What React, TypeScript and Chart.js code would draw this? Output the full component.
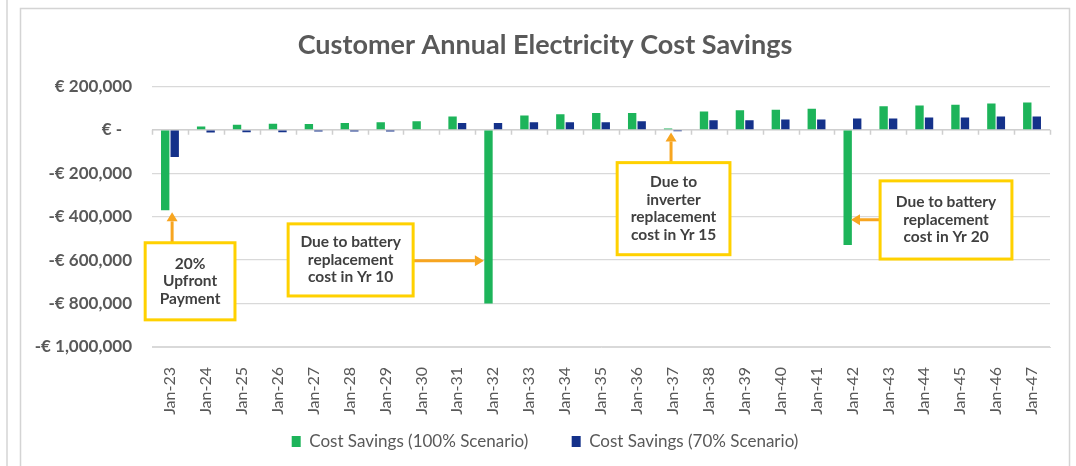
import React, { useEffect, useRef } from 'react';
import { Chart, registerables } from 'chart.js';

Chart.register(...registerables);

// ---------- data ----------
const categories = [
  'Jan-23', 'Jan-24', 'Jan-25', 'Jan-26', 'Jan-27', 'Jan-28', 'Jan-29', 'Jan-30', 'Jan-31',
  'Jan-32', 'Jan-33', 'Jan-34', 'Jan-35', 'Jan-36', 'Jan-37', 'Jan-38', 'Jan-39', 'Jan-40',
  'Jan-41', 'Jan-42', 'Jan-43', 'Jan-44', 'Jan-45', 'Jan-46', 'Jan-47',
];
const savings100 = [
  -370000, 15000, 23000, 28000, 27000, 31000, 35000, 40000, 61000,
  -800000, 66000, 72000, 77000, 77000, 6000, 84000, 90000, 93000,
  97000, -530000, 109000, 112000, 116000, 121000, 126000,
];
const savings70 = [
  -125000, -12000, -11000, -11000, -8000, -8000, -8000, 0, 31000,
  31000, 35000, 35000, 35000, 40000, -7000, 44000, 44000, 48000,
  48000, 52000, 52000, 57000, 57000, 61000, 61000,
];
const seriesLabels = ['Cost Savings (100% Scenario)', 'Cost Savings (70% Scenario)'];
const chartTitle = 'Customer Annual Electricity Cost Savings';
const yMin = -1000000;
const yMax = 200000;
const yStep = 200000;

// annotation texts
const noteTexts = [
  ['20%', 'Upfront', 'Payment'],
  ['Due to battery', 'replacement', 'cost in Yr 10'],
  ['Due to', 'inverter', 'replacement', 'cost in Yr 15'],
  ['Due to battery', 'replacement', 'cost in Yr 20'],
];
// annotation boxes in data space: [catFrom, catTo, valueTop, valueBottom]
const noteBoxes = [
  [-0.69, 1.81, -520000, -875000],
  [3.29, 6.77, -433000, -765000],
  [12.45, 15.59, -151000, -575000],
  [19.77, 23.44, -235000, -595000],
];
// arrows in data space: [catFrom, valueFrom, catTo, valueTo]
const noteArrows = [
  [0.06, -520000, 0.06, -380000],
  [6.77, -603000, 8.74, -603000],
  [13.95, -151000, 13.95, -12000],
  [19.77, -414000, 18.96, -414000],
];

// ---------- styles ----------
const FONT = 'Lato, "Noto Sans", sans-serif';
const TEXT = '#595959';
const GRID = '#D9D9D9';
const GREEN = '#1DB45A';
const BLUE = '#14318A';
const YELLOW = '#FFD100';
const ORANGE = '#F7A520';
const LEGEND_GAP = '\u2002\u2002\u2002';

const fmtEuro = (v: number) => {
  if (v === 0) return '€ -\u2007';
  return (v < 0 ? '-' : '') + '€ ' + Math.abs(v).toLocaleString('en-US');
};

const framePlugin = {
  id: 'frame',
  beforeDraw(chart: any) {
    const { ctx, width, height } = chart;
    ctx.save();
    ctx.fillStyle = '#ffffff';
    ctx.fillRect(0, 0, width, height);
    ctx.strokeStyle = '#D4D4D4';
    ctx.lineWidth = 1.5;
    ctx.beginPath();
    ctx.moveTo(7, 0);
    ctx.lineTo(7, height);
    ctx.stroke();
    ctx.strokeRect(20.5, 8.5, width - 27, height + 10);
    ctx.restore();
  },
};

const zeroAxisPlugin = {
  id: 'zeroAxis',
  beforeDatasetsDraw(chart: any) {
    const { ctx } = chart;
    const xs = chart.scales.x;
    const ys = chart.scales.y;
    const y0 = ys.getPixelForValue(0);
    const n = categories.length;
    const w = (xs.right - xs.left) / n;
    ctx.save();
    ctx.strokeStyle = '#CFCFCF';
    ctx.lineWidth = 1.5;
    ctx.beginPath();
    ctx.moveTo(xs.left, y0);
    ctx.lineTo(xs.right, y0);
    for (let i = 0; i <= n; i++) {
      const x = Math.round(xs.left + i * w) + 0.5;
      ctx.moveTo(x, y0);
      ctx.lineTo(x, y0 + 5);
    }
    ctx.stroke();
    ctx.restore();
  },
};

const drawArrow = (ctx: any, x1: number, y1: number, x2: number, y2: number) => {
  const ang = Math.atan2(y2 - y1, x2 - x1);
  const head = 9;
  const hw = 5.5;
  const bx = x2 - head * Math.cos(ang);
  const by = y2 - head * Math.sin(ang);
  ctx.strokeStyle = ORANGE;
  ctx.fillStyle = ORANGE;
  ctx.lineWidth = 3;
  ctx.beginPath();
  ctx.moveTo(x1, y1);
  ctx.lineTo(bx, by);
  ctx.stroke();
  ctx.beginPath();
  ctx.moveTo(x2, y2);
  ctx.lineTo(bx + hw * Math.sin(ang), by - hw * Math.cos(ang));
  ctx.lineTo(bx - hw * Math.sin(ang), by + hw * Math.cos(ang));
  ctx.closePath();
  ctx.fill();
};

const notesPlugin = {
  id: 'notes',
  afterDatasetsDraw(chart: any) {
    const { ctx } = chart;
    const xs = chart.scales.x;
    const ys = chart.scales.y;
    ctx.save();
    noteArrows.forEach((a) => {
      drawArrow(
        ctx,
        xs.getPixelForValue(a[0]), ys.getPixelForValue(a[1]),
        xs.getPixelForValue(a[2]), ys.getPixelForValue(a[3]),
      );
    });
    noteBoxes.forEach((b, i) => {
      const x0 = xs.getPixelForValue(b[0]);
      const x1 = xs.getPixelForValue(b[1]);
      const y0 = ys.getPixelForValue(b[2]);
      const y1 = ys.getPixelForValue(b[3]);
      ctx.fillStyle = '#ffffff';
      ctx.fillRect(x0, y0, x1 - x0, y1 - y0);
      ctx.strokeStyle = YELLOW;
      ctx.lineWidth = 3;
      ctx.strokeRect(x0, y0, x1 - x0, y1 - y0);
      const lines = noteTexts[i];
      const lh = 17.5;
      const cx = (x0 + x1) / 2;
      const cy = (y0 + y1) / 2;
      ctx.fillStyle = '#404040';
      ctx.font = `bold 15.5px ${FONT}`;
      ctx.textAlign = 'center';
      ctx.textBaseline = 'middle';
      lines.forEach((t, k) => {
        ctx.fillText(t, cx, cy + (k - (lines.length - 1) / 2) * lh);
      });
    });
    ctx.restore();
  },
};

export default function App() {
  const ref = useRef<HTMLCanvasElement | null>(null);

  useEffect(() => {
    if (!ref.current) return;
    const chart = new Chart(ref.current, {
      type: 'bar',
      data: {
        labels: categories,
        datasets: [
          {
            label: seriesLabels[0],
            data: savings100,
            backgroundColor: GREEN,
            categoryPercentage: 0.53,
            barPercentage: 0.88,
          },
          {
            label: seriesLabels[1],
            data: savings70,
            backgroundColor: BLUE,
            categoryPercentage: 0.53,
            barPercentage: 0.88,
          },
        ],
      },
      options: {
        responsive: false,
        animation: false,
        layout: { padding: { top: 8, left: 20, right: 6, bottom: 6 } },
        scales: {
          x: {
            grid: { display: false },
            border: { display: true, color: GRID },
            ticks: {
              minRotation: 90,
              maxRotation: 90,
              autoSkip: false,
              padding: 12,
              color: TEXT,
              font: { family: FONT, size: 16 },
            },
            afterFit(s: any) { s.height = 68; },
          },
          y: {
            min: yMin,
            max: yMax,
            grid: { color: GRID, drawTicks: false, lineWidth: 1.3 },
            border: { display: false },
            ticks: {
              stepSize: yStep,
              padding: 20,
              color: TEXT,
              font: { family: FONT, size: 17, weight: 'bold' },
              callback: (v: any) => fmtEuro(Number(v)),
            },
            afterFit(s: any) { s.width = 132; },
          },
          yR: {
            position: 'right',
            display: true,
            grid: { display: false },
            border: { display: false },
            ticks: { display: false },
            afterFit(s: any) { s.width = 20; },
          },
        },
        plugins: {
          title: {
            display: true,
            text: chartTitle,
            color: TEXT,
            font: { family: FONT, size: 27, weight: 'bold' },
            padding: { top: 21, bottom: 25 },
          },
          legend: {
            position: 'bottom',
            labels: {
              boxWidth: 9,
              boxHeight: 11,
              padding: 18,
              color: TEXT,
              font: { family: FONT, size: 17 },
              generateLabels(chart: any) {
                const items = Chart.defaults.plugins.legend.labels.generateLabels(chart);
                return items.map((it: any, i: number) => ({
                  ...it,
                  text: i < items.length - 1 ? it.text + LEGEND_GAP : it.text,
                }));
              },
            },
          },
          tooltip: { enabled: false },
        },
      },
      plugins: [framePlugin, zeroAxisPlugin, notesPlugin],
    } as any);
    return () => chart.destroy();
  }, []);

  return (
    <div style={{ position: 'absolute', left: 0, top: 0, width: 1076, height: 466 }}>
      <canvas ref={ref} width={1076} height={466} />
    </div>
  );
}
